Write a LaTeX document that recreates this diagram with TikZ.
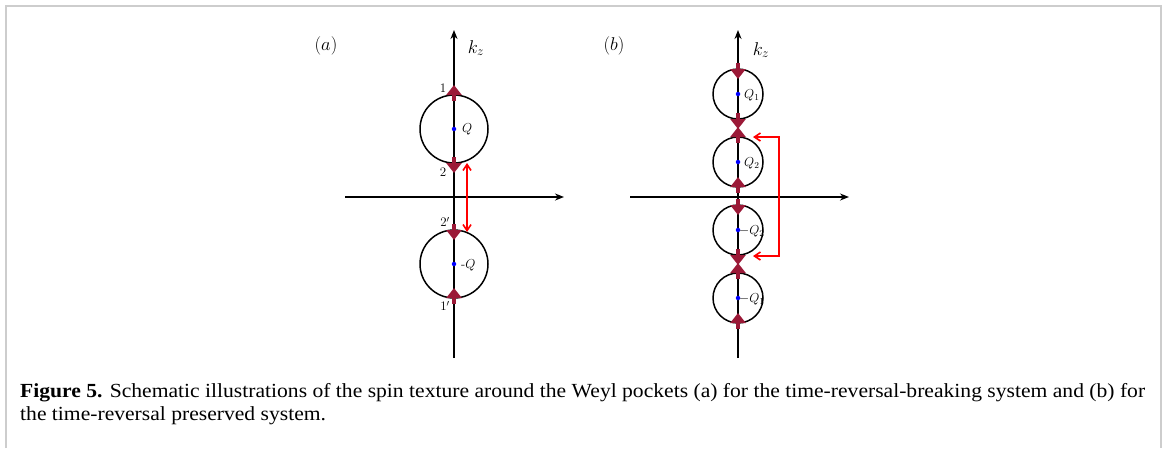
\RequirePackage{fix-cm}
\documentclass[tikz,border=0pt]{standalone}
\usepackage{fontspec}
\setmainfont{Liberation Serif}[FakeStretch=1.08]
\newfontfamily\lmfont{Latin Modern Roman}
\usetikzlibrary{arrows.meta,calc}
\definecolor{wine}{RGB}{155,25,55}
\definecolor{framegray}{RGB}{205,205,205}
\tikzset{
  axis/.style={line width=1.5pt,-{Stealth[length=9pt,width=7pt]}},
  pocket/.style={line width=1.5pt,draw=black},
  spin/.style={line width=4pt,wine,-{Triangle[length=10pt,width=15pt]},shorten >=0pt},
  link/.style={line width=1.6pt,red},
  dot/.style={circle,fill=blue,inner sep=0pt,minimum size=4.5pt},
  lab/.style={font=\lmfont\fontsize{13}{15}\selectfont,inner sep=0pt},
  biglab/.style={font=\lmfont\fontsize{18.5}{22}\selectfont,inner sep=0pt},
  capline/.style={anchor=base west,inner sep=0pt,font=\fontsize{20}{24}\selectfont}
}
\begin{document}
\begin{tikzpicture}[x=1pt,y=-1pt]
\useasboundingbox (0,0) rectangle (1165,448);
% frame
\draw[framegray,line width=2pt] (6,448) -- (6,6) -- (1161,6) -- (1161,448);

% ---------- panel (a)
\coordinate (aB) at (454,358);
\coordinate (aT) at (454,30);
\coordinate (aL) at (345,197);
\coordinate (aR) at (564,197);
\draw[axis] (aL) -- (aR);
\draw[axis] (aB) -- (aT);
\node[biglab] (alabel) at (326,46) {$(a)$};
\node[biglab] (akz) at (476,48) {$k_z$};
\coordinate (cQ) at (454,129);
\coordinate (cmQ) at (454,264);
\draw[pocket] (cQ) circle (34);
\draw[pocket] (cmQ) circle (34);
\node[dot] (dQ) at (cQ) {};
\node[dot] (dmQ) at (cmQ) {};
\node[lab,anchor=west] (lQ) at (462,129) {$Q$};
\node[lab,anchor=west] (lmQ) at (461,265) {-$Q$};
% spin arrows
\draw[spin] ($(cQ)+(0,-28)$) -- ($(cQ)+(0,-44)$);
\draw[spin] ($(cQ)+(0,28)$) -- ($(cQ)+(0,44)$);
\draw[spin] ($(cmQ)+(0,-40)$) -- ($(cmQ)+(0,-24)$);
\draw[spin] ($(cmQ)+(0,40)$) -- ($(cmQ)+(0,24)$);
\node[lab] (n1) at (443,88) {1};
\node[lab] (n2) at (443,172) {2};
\node[lab] (n2p) at (445,222) {$2'$};
\node[lab] (n1p) at (445,306) {$1'$};
\coordinate (ra1) at (467,163);
\coordinate (ra2) at (467,232);
\draw[link,{Straight Barb[length=6pt,width=8pt]}-{Straight Barb[length=6pt,width=8pt]}] (ra1) -- (ra2);

% ---------- panel (b)
\coordinate (bB) at (738,358);
\coordinate (bT) at (738,30);
\coordinate (bL) at (630,197);
\coordinate (bR) at (849,197);
\draw[axis] (bL) -- (bR);
\draw[axis] (bB) -- (bT);
\node[biglab] (blabel) at (614,46) {$(b)$};
\node[biglab] (bkz) at (761,50) {$k_z$};
\foreach \n/\y in {q1/94,q2/162,mq2/230,mq1/298}{
  \coordinate (c\n) at (738,\y);
  \draw[pocket] (c\n) circle (25);
  \node[dot] (d\n) at (c\n) {};
}
\node[lab,anchor=west] (lq1) at (744,95) {$Q_1$};
\node[lab,anchor=west] (lq2) at (744,163) {$Q_2$};
\node[lab,anchor=west] (lmq2) at (739,231) {$-Q_2$};
\node[lab,anchor=west] (lmq1) at (739,299) {$-Q_1$};
% spin arrows (b)
\draw[spin] ($(cq1)+(0,-31)$) -- ($(cq1)+(0,-15)$);
\draw[spin] ($(cq1)+(0,19)$) -- ($(cq1)+(0,35)$);
\draw[spin] ($(cq2)+(0,-19)$) -- ($(cq2)+(0,-35)$);
\draw[spin] ($(cq2)+(0,31)$) -- ($(cq2)+(0,15)$);
\draw[spin] ($(cmq2)+(0,-31)$) -- ($(cmq2)+(0,-15)$);
\draw[spin] ($(cmq2)+(0,19)$) -- ($(cmq2)+(0,35)$);
\draw[spin] ($(cmq1)+(0,-19)$) -- ($(cmq1)+(0,-35)$);
\draw[spin] ($(cmq1)+(0,31)$) -- ($(cmq1)+(0,15)$);
\coordinate (rb1) at (753,137);
\coordinate (rb2) at (753,256);
\draw[link,{Straight Barb[length=6pt,width=8pt]}-{Straight Barb[length=6pt,width=8pt]}] (rb1) -- (779,137) -- (779,256) -- (rb2);

% ---------- caption
\node[capline] (cap1) at (20,397) {\textbf{Figure 5.} Schematic illustrations of the spin texture around the Weyl pockets (a) for the time-reversal-breaking system and (b) for};
\node[capline] (cap2) at (20,420) {the time-reversal preserved system.};
\end{tikzpicture}
\end{document}
